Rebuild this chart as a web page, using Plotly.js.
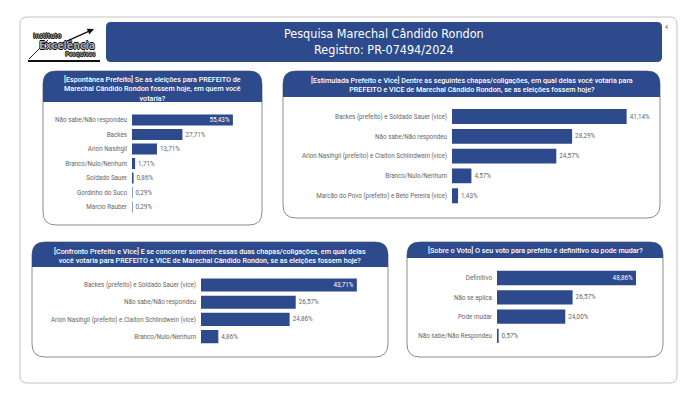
<!DOCTYPE html>
<html>
<head>
<meta charset="utf-8">
<script src="https://cdn.plot.ly/plotly-3.0.1.min.js"></script>
<style>html,body{margin:0;padding:0;background:#fff;}#chart{width:696px;height:402px;}</style>
</head>
<body>
<div id="chart"></div>
<script>
// ---------- DATA ----------
const cats1 = ["Não sabe/Não respondeu","Backes","Arion Nasihgil","Branco/Nulo/Nenhum","Soldado Sauer","Gordinho do Suco","Márcio Rauber"];
const vals1 = [55.43, 27.71, 13.71, 1.71, 0.86, 0.29, 0.29];

const cats2 = ["Backes (prefeito) e Soldado Sauer (vice)","Não sabe/Não respondeu","Arion Nasihgil (prefeito) e Claiton Schlindwein (vice)","Branco/Nulo/Nenhum","Marcão do Povo (prefeito) e Beto Pereira (vice)"];
const vals2 = [41.14, 28.29, 24.57, 4.57, 1.43];

const cats3 = ["Backes (prefeito) e Soldado Sauer (vice)","Não sabe/Não respondeu","Arion Nasihgil (prefeito) e Claiton Schlindwein (vice)","Branco/Nulo/Nenhum"];
const vals3 = [43.71, 26.57, 24.86, 4.86];

const cats4 = ["Definitivo","Não se aplica","Pode mudar","Não sabe/Não Respondeu"];
const vals4 = [48.86, 26.57, 24.00, 0.57];

const mainTitle = ["Pesquisa Marechal Cândido Rondon","Registro: PR-07494/2024"];
const title1 = "[Espontânea Prefeito] Se as eleições para PREFEITO de<br>Marechal Cândido Rondon fossem hoje, em quem você<br>votaria?";
const title2 = "[Estimulada Prefeito e Vice] Dentre as seguintes chapas/coligações, em qual delas você votaria para<br>PREFEITO e VICE de Marechal Cândido Rondon, se as eleições fossem hoje?";
const title3 = "[Confronto Prefeito e Vice] E se concorrer somente essas duas chapas/coligações, em qual delas<br>você votaria para PREFEITO e VICE de Marechal Cândido Rondon, se as eleições fossem hoje?";
const title4 = "[Sobre o Voto] O seu voto para prefeito é definitivo ou pode mudar?";

// ---------- LAYOUT HELPERS ----------
const W = 696, H = 402;
const BLUE = '#2C4A8C';
const px = x => x / W;
const py = y => 1 - y / H;
const P = (x, y) => px(x).toFixed(5) + ',' + py(y).toFixed(5);

function roundRect(x0, y0, x1, y1, r) {
  return 'M' + P(x0 + r, y0) + ' L' + P(x1 - r, y0) + ' Q' + P(x1, y0) + ' ' + P(x1, y0 + r) +
    ' L' + P(x1, y1 - r) + ' Q' + P(x1, y1) + ' ' + P(x1 - r, y1) +
    ' L' + P(x0 + r, y1) + ' Q' + P(x0, y1) + ' ' + P(x0, y1 - r) +
    ' L' + P(x0, y0 + r) + ' Q' + P(x0, y0) + ' ' + P(x0 + r, y0) + ' Z';
}
function topRound(x0, y0, x1, y1, r) {
  return 'M' + P(x0 + r, y0) + ' L' + P(x1 - r, y0) + ' Q' + P(x1, y0) + ' ' + P(x1, y0 + r) +
    ' L' + P(x1, y1) + ' L' + P(x0, y1) + ' L' + P(x0, y0 + r) + ' Q' + P(x0, y0) + ' ' + P(x0 + r, y0) + ' Z';
}

// panel geometry (pixels)
const panels = [
  {box:[43,71,262,225], head:102, tx:152.5, ty:88.5, title:title1, bar0:132, ppp:1.82, row0:120, step:14.5, n:cats1.length, bw:0.76},
  {box:[283,71,660,218], head:97, tx:471.5, ty:85, title:title2, bar0:452, ppp:4.245, row0:116.5, step:19.8, n:cats2.length, bw:0.75},
  {box:[32,242,388,357], head:267, tx:210, ty:255.5, title:title3, bar0:201, ppp:3.565, row0:285, step:17.2, n:cats3.length, bw:0.76},
  {box:[407,242,663,357], head:258, tx:535, ty:250.5, title:title4, bar0:497, ppp:2.845, row0:278, step:19.3, n:cats4.length, bw:0.74}
];
const cats = [cats1, cats2, cats3, cats4];
const vals = [vals1, vals2, vals3, vals4];

const FONT = 'Roboto, "Open Sans", sans-serif';
const data = [];
const layout = {
  width: W, height: H,
  margin: {l:0, r:0, t:0, b:0},
  paper_bgcolor: '#ffffff',
  plot_bgcolor: 'rgba(0,0,0,0)',
  showlegend: false,
  separators: ',.',
  font: {family: FONT, color: '#555'},
  shapes: [], annotations: []
};

// outer frame
layout.shapes.push({type:'path', xref:'paper', yref:'paper', path: roundRect(20, 17, 677, 383, 7),
  line:{color:'#c4c4c4', width:1}, fillcolor:'rgba(0,0,0,0)', layer:'below'});
// main header
layout.shapes.push({type:'path', xref:'paper', yref:'paper', path: roundRect(106, 22, 662, 62, 5),
  line:{width:0}, fillcolor: BLUE, layer:'below'});
layout.annotations.push({xref:'paper', yref:'paper', x:px(384), y:py(42), xanchor:'center', yanchor:'middle',
  text: mainTitle.join('<br>'), showarrow:false, font:{family:'"DejaVu Sans Condensed", Roboto, sans-serif', size:12.5, color:'#ffffff'}});
layout.annotations.push({xref:'paper', yref:'paper', x:px(666), y:py(27), xanchor:'center', yanchor:'middle',
  text:'4', showarrow:false, font:{family:FONT, size:5, color:'#555'}});

// logo
layout.shapes.push({type:'line', xref:'paper', yref:'paper', x0:px(28), y0:py(61), x1:px(100), y1:py(61), line:{color:'#111', width:2}});
layout.shapes.push({type:'line', xref:'paper', yref:'paper', x0:px(29), y0:py(59), x1:px(48), y1:py(40), line:{color:'#222', width:1}});
layout.annotations.push({xref:'paper', yref:'paper', x:px(94), y:py(29), ax:-38, ay:17, text:'', showarrow:true,
  arrowhead:2, arrowsize:1, arrowwidth:1.3, arrowcolor:'#111'});
const outline = '-0.6px 0 #000, 0.6px 0 #000, 0 0.6px #000, 0 -0.6px #000';
layout.annotations.push({xref:'paper', yref:'paper', x:px(47), y:py(36), xanchor:'center', yanchor:'middle', text:'<b>Instituto</b>',
  showarrow:false, font:{family:'"DejaVu Sans Condensed", sans-serif', size:6.5, color:'#999', shadow: outline}});
layout.annotations.push({xref:'paper', yref:'paper', x:px(67), y:py(45), xanchor:'center', yanchor:'middle', text:'<b>Excelência</b>',
  showarrow:false, font:{family:'"DejaVu Sans Condensed", sans-serif', size:10.5, color:'#aaa', shadow: outline}});
layout.annotations.push({xref:'paper', yref:'paper', x:px(80), y:py(54), xanchor:'center', yanchor:'middle', text:'<b>Pesquisas</b>',
  showarrow:false, font:{family:'"DejaVu Sans Condensed", sans-serif', size:6, color:'#999', shadow: outline}});

panels.forEach((p, i) => {
  const [x0, y0, x1, y1] = p.box;
  layout.shapes.push({type:'path', xref:'paper', yref:'paper', path: roundRect(x0, y0, x1, y1, 13),
    line:{color:'#8c8c8c', width:1}, fillcolor:'#ffffff', layer:'below'});
  layout.shapes.push({type:'path', xref:'paper', yref:'paper', path: topRound(x0, y0, x1, p.head, 13),
    line:{width:0}, fillcolor: BLUE, layer:'below'});
  layout.annotations.push({xref:'paper', yref:'paper', x:px(p.tx), y:py(p.ty), xanchor:'center', yanchor:'middle',
    text:p.title, showarrow:false, font:{family:FONT, size:7.2, color:'#ffffff', weight:500}});

  const sfx = i === 0 ? '' : String(i + 1);
  const xEnd = x1 - 14;
  const top = p.row0 - p.step / 2;
  const bot = top + p.step * p.n;
  layout['xaxis' + sfx] = {domain:[px(p.bar0), px(xEnd)], range:[0, (xEnd - p.bar0) / p.ppp],
    anchor:'y' + sfx, showgrid:false, zeroline:false, showticklabels:false, showline:false, ticks:'', fixedrange:true};
  layout['yaxis' + sfx] = {domain:[py(bot), py(top)], anchor:'x' + sfx, type:'category', autorange:'reversed',
    showgrid:false, zeroline:false, showline:false, ticks:'', ticklabelstandoff:4,
    tickfont:{family:FONT, size:6.3, color:'#666'}, fixedrange:true};

  const maxV = Math.max(...vals[i]);
  const inside = i !== 1;
  data.push({
    type:'bar', orientation:'h', x: vals[i], y: cats[i], xaxis:'x' + sfx, yaxis:'y' + sfx,
    marker:{color: BLUE}, width: p.bw,
    texttemplate:'%{x:.2f}%',
    textposition: vals[i].map(v => (inside && v === maxV) ? 'inside' : 'outside'),
    insidetextanchor:'end', constraintext:'none',
    insidetextfont:{family:FONT, size:6.3, color:'#ffffff'},
    outsidetextfont:{family:FONT, size:6.3, color:'#666'},
    textangle:0, cliponaxis:false, hoverinfo:'skip'
  });
});

Plotly.newPlot('chart', data, layout, {staticPlot:true, displayModeBar:false});
</script>
</body>
</html>
